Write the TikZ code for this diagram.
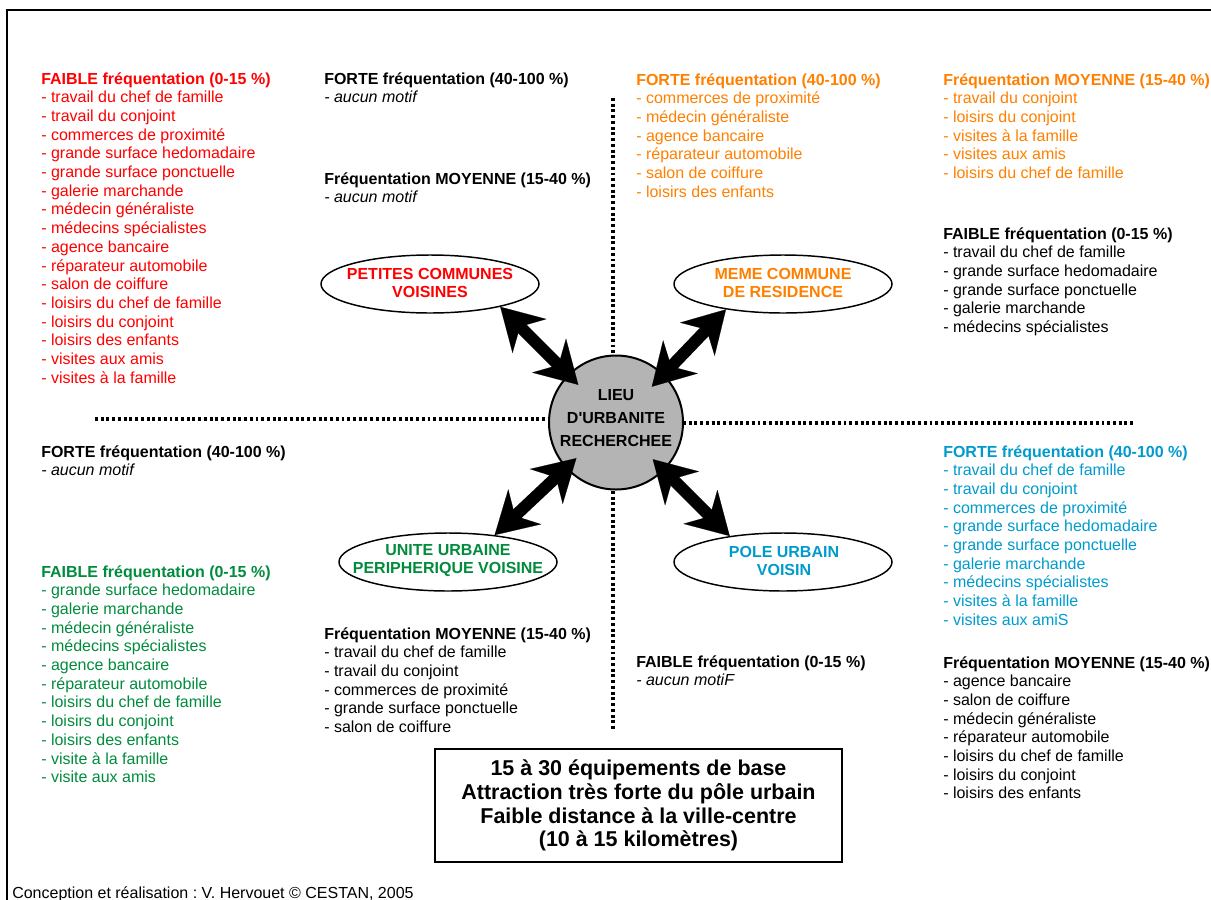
\documentclass[tikz,border=0pt]{standalone}
\usepackage{fontspec}
\setmainfont{Liberation Sans}
\frenchspacing
\usetikzlibrary{shapes.geometric,arrows.meta,calc}
\definecolor{cred}{RGB}{255,0,0}
\definecolor{corange}{RGB}{255,128,0}
\definecolor{cgreen}{RGB}{0,140,60}
\definecolor{cblue}{RGB}{0,155,205}
\definecolor{cgray}{RGB}{180,180,180}
\newcommand\txtblk[5]{%
  \foreach \itm [count=\i] in {#5}{%
    \node[txt,text=#2,anchor=base west] (#1-\i) at (#3,{#4+(\i-1)*18.7}) {\itm};
  }}
\tikzset{
  txt/.style={inner sep=0pt, font=\fontsize{12pt}{14pt}\selectfont},
  ell/.style={draw, ellipse, fill=white, line width=1.1pt, minimum width=163.5pt, minimum height=43.5pt, inner sep=0pt},
  etxt/.style={align=center, inner sep=0pt, font=\fontsize{12pt}{13.5pt}\selectfont\bfseries},
  bigarrow/.style={line width=9pt, {Stealth[length=31pt,width=36pt,inset=10pt,line width=0.1pt]}-{Stealth[length=31pt,width=36pt,inset=10pt,line width=0.1pt]}},
  dotline/.style={line width=2.3pt, dash pattern=on 2.2pt off 2.1pt},
  frame/.style={line width=1.2pt},
}
\begin{document}
\begin{tikzpicture}[x=0.75pt,y=-0.75pt]
\useasboundingbox (0,0) rectangle (1211,900);
% frame
\draw[frame] (7,905) -- (7,10) -- (1220,10);
% dotted separators
\draw[dotline] (613,98) -- (613,354);
\draw[dotline] (613,491) -- (613,731);
\draw[dotline] (95,419) -- (549,419);
\draw[dotline] (683,423) -- (1133,423);
% centre
\node[circle, draw, fill=cgray, line width=1.5pt, minimum size=100.5pt, inner sep=0pt] (c) at (616,422.5) {};
\node[align=center, inner sep=0pt, font=\fontsize{12pt}{17.25pt}\selectfont\bfseries] (ctext) at (616,418) {LIEU\\D\textquotesingle URBANITE\\RECHERCHEE};
% ellipses
\node[ell] (e1) at (430,284) {};
\node[ell] (e2) at (783,284) {};
\node[ell] (e3) at (448,562) {};
\node[ell] (e4) at (783,562) {};
\node[etxt, text=cred] (t1) at (430,283) {PETITES COMMUNES\\VOISINES};
\node[etxt, text=corange] (t2) at (783,283) {MEME COMMUNE\\DE RESIDENCE};
\node[etxt, text=cgreen] (t3) at (448,561) {UNITE URBAINE\\PERIPHERIQUE VOISINE};
\node[etxt, text=cblue] (t4) at (784,561) {POLE URBAIN\\VOISIN};
% arrows
\coordinate (c1) at ($(c.center)+(135:40pt)$);
\coordinate (c2) at ($(c.center)+(45:38pt)$);
\coordinate (c3) at ($(c.center)+(222:40pt)$);
\coordinate (c4) at ($(c.center)+(-45:39pt)$);
\draw[bigarrow] (e1.-18) -- (c1);
\draw[bigarrow] (e2.204) -- (c2);
\draw[bigarrow] (e3.30) -- (c3);
\draw[bigarrow] (e4.154) -- (c4);
% text blocks
\txtblk{b1}{cred}{41}{84}{\textbf{FAIBLE fréquentation (0-15 \%)},
 - travail du chef de famille, - travail du conjoint, - commerces de proximité,
 - grande surface hedomadaire, - grande surface ponctuelle, - galerie marchande,
 - médecin généraliste, - médecins spécialistes, - agence bancaire,
 - réparateur automobile, - salon de coiffure, - loisirs du chef de famille,
 - loisirs du conjoint, - loisirs des enfants, - visites aux amis, - visites à la famille}
\txtblk{b2}{black}{324}{84}{\textbf{FORTE fréquentation (40-100 \%)}, \textit{- aucun motif}}
\txtblk{b3}{black}{324}{184}{\textbf{Fréquentation MOYENNE (15-40 \%)}, \textit{- aucun motif}}
\txtblk{b4}{corange}{636}{85}{\textbf{FORTE fréquentation (40-100 \%)},
 - commerces de proximité, - médecin généraliste, - agence bancaire,
 - réparateur automobile, - salon de coiffure, - loisirs des enfants}
\txtblk{b5}{corange}{943}{85}{\textbf{Fréquentation MOYENNE (15-40 \%)},
 - travail du conjoint, - loisirs du conjoint, - visites à la famille,
 - visites aux amis, - loisirs du chef de famille}
\txtblk{b6}{black}{943}{239}{\textbf{FAIBLE fréquentation (0-15 \%)},
 - travail du chef de famille, - grande surface hedomadaire, - grande surface ponctuelle,
 - galerie marchande, - médecins spécialistes}
\txtblk{b7}{black}{41}{457}{\textbf{FORTE fréquentation (40-100 \%)}, \textit{- aucun motif}}
\txtblk{b8}{cgreen}{41}{577}{\textbf{FAIBLE fréquentation (0-15 \%)},
 - grande surface hedomadaire, - galerie marchande, - médecin généraliste,
 - médecins spécialistes, - agence bancaire, - réparateur automobile,
 - loisirs du chef de famille, - loisirs du conjoint, - loisirs des enfants,
 - visite à la famille, - visite aux amis}
\txtblk{b9}{black}{324}{639}{\textbf{Fréquentation MOYENNE (15-40 \%)},
 - travail du chef de famille, - travail du conjoint, - commerces de proximité,
 - grande surface ponctuelle, - salon de coiffure}
\txtblk{b10}{black}{636}{667}{\textbf{FAIBLE fréquentation (0-15 \%)}, \textit{- aucun motiF}}
\txtblk{b11}{cblue}{943}{457}{\textbf{FORTE fréquentation (40-100 \%)},
 - travail du chef de famille, - travail du conjoint, - commerces de proximité,
 - grande surface hedomadaire, - grande surface ponctuelle, - galerie marchande,
 - médecins spécialistes, - visites à la famille, - visites aux amiS}
\txtblk{b12}{black}{943}{668}{\textbf{Fréquentation MOYENNE (15-40 \%)},
 - agence bancaire, - salon de coiffure, - médecin généraliste,
 - réparateur automobile, - loisirs du chef de famille, - loisirs du conjoint,
 - loisirs des enfants}
% summary box
\node[draw, line width=1.5pt, minimum width=305pt, minimum height=85pt, align=center, inner sep=0pt,
  font=\fontsize{16.1pt}{17.8pt}\selectfont\bfseries] (box) at (638.5,805.5)
  {15 à 30 équipements de base\\Attraction très forte du pôle urbain\\Faible distance à la ville-centre\\(10 à 15 kilomètres)};
% footer
\node[txt, anchor=base west] (foot) at (12,898) {Conception et réalisation : V. Hervouet © CESTAN, 2005};
\end{tikzpicture}
\end{document}
